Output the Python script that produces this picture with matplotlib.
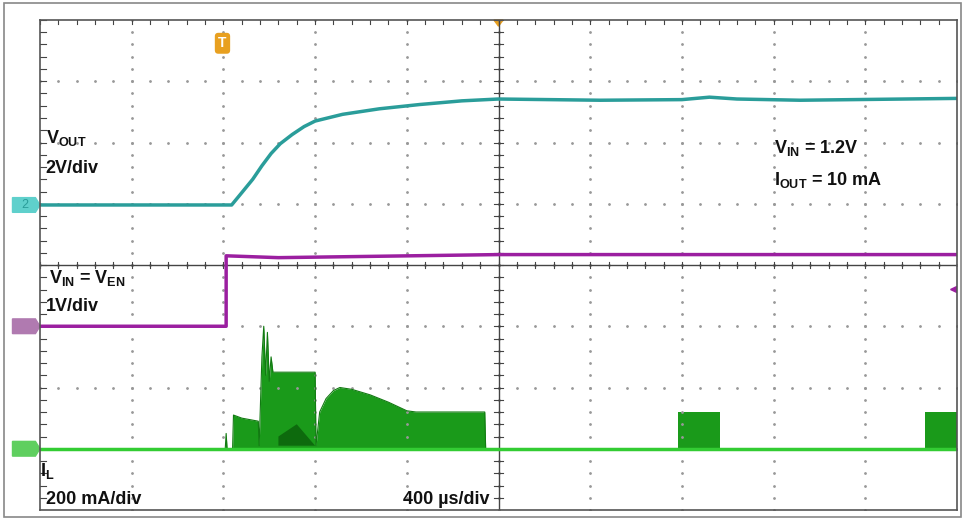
import numpy as np
import matplotlib
matplotlib.use("Agg")
import matplotlib.pyplot as plt
from matplotlib.patches import Polygon, Rectangle

plt.rcParams['font.family'] = ['Liberation Sans', 'DejaVu Sans']
plt.rcParams['mathtext.fontset'] = 'custom'
plt.rcParams['mathtext.bf'] = 'Liberation Sans:bold'
plt.rcParams['mathtext.rm'] = 'Liberation Sans:bold'
plt.rcParams['mathtext.default'] = 'bf'

# screen is 10 x 8 divisions; values in divisions
vout_t = [0, 2.09, 2.2, 2.32, 2.42, 2.52, 2.62, 2.75, 2.88, 3.0, 3.3, 3.7, 4.14, 4.6, 5.0,
          6.11, 7.0, 7.3, 7.6, 8.29, 10.0]
vout_v = [4.98, 4.98, 5.18, 5.4, 5.62, 5.82, 5.98, 6.13, 6.26, 6.35, 6.46, 6.55, 6.62, 6.68, 6.71,
          6.69, 6.70, 6.74, 6.71, 6.69, 6.72]

vin_t = [0, 2.03, 2.03, 2.6, 5.0, 10.0]
vin_v = [3.0, 3.0, 4.15, 4.12, 4.17, 4.17]

il_base = 1.0
# outline of the inductor current envelope during start-up
il_t = [0, 2.02, 2.03, 2.04, 2.1, 2.11, 2.2, 2.38, 2.39, 2.42, 2.44, 2.46, 2.48, 2.5, 2.52,
        2.54, 2.6, 3.0, 3.01, 3.05, 3.12, 3.2, 3.27, 3.4, 3.6, 3.8, 4.0, 4.1, 4.85, 4.86, 10.0]
il_v = [1.0, 1.0, 1.25, 1.0, 1.0, 1.55, 1.5, 1.45, 1.05, 2.5, 3.0, 2.2, 2.9, 2.1, 2.5,
        2.25, 2.25, 2.25, 1.05, 1.6, 1.82, 1.95, 2.0, 1.97, 1.88, 1.76, 1.62, 1.6, 1.6, 1.0, 1.0]
bursts = [(6.96, 7.42, 1.6), (9.65, 10.0, 1.6)]

fig = plt.figure(figsize=(9.65, 5.2), dpi=100)
fig.add_artist(Rectangle((0.004, 0.006), 0.992, 0.988, transform=fig.transFigure,
                         fill=False, ec='#888888', lw=1.2))
ax = fig.add_axes([40 / 965, 10 / 520, 917 / 965, 490 / 520])
ax.set_xlim(0, 10)
ax.set_ylim(0, 8)
ax.set_xticks([])
ax.set_yticks([])
for s in ax.spines.values():
    s.set_color('#555555')
    s.set_linewidth(1.2)

# dotted graticule
for gx in range(1, 10):
    ax.plot([gx] * 41, np.linspace(0, 8, 41), ls='none', marker='.', ms=2, color='#999999')
for gy in range(1, 8):
    ax.plot(np.linspace(0, 10, 51), [gy] * 51, ls='none', marker='.', ms=2, color='#999999')
ax.axvline(5, color='#444444', lw=1)
ax.axhline(4, color='#444444', lw=1)
for t in np.arange(0, 10.01, 0.2):
    ax.plot([t, t], [3.95, 4.05], color='#444444', lw=0.8)
    ax.plot([t, t], [7.93, 8.0], color='#444444', lw=0.8)
for t in np.arange(0, 8.01, 0.2):
    ax.plot([4.95, 5.05], [t, t], color='#444444', lw=0.8)
    ax.plot([0, 0.07], [t, t], color='#444444', lw=0.8)

# traces
ax.plot(vout_t, vout_v, color='#2a9d9a', lw=2.5)
ax.plot(vin_t, vin_v, color='#9b1fa0', lw=2.5)
ax.fill_between(il_t, il_base, il_v, color='#1a9a1a', lw=0)
ax.plot(il_t, il_v, color='#127a12', lw=0.8)
ax.add_patch(Polygon([[2.6, 1.2], [2.8, 1.4], [3.0, 1.05], [2.6, 1.05]], color='#0d6a0d', lw=0))
for b0, b1, h in bursts:
    ax.fill_between([b0, b1], il_base, h, color='#1a9a1a', lw=0)
ax.plot([0, 10], [il_base, il_base], color='#33cc33', lw=2.5)

# channel markers
for yv, col, lab in [(4.98, '#5fd0cc', '2'), (3.0, '#b07ab0', ''), (1.0, '#5fcf5f', '')]:
    ax.add_patch(Polygon([[-0.3, yv - 0.12], [-0.05, yv - 0.12], [0.0, yv],
                          [-0.05, yv + 0.12], [-0.3, yv + 0.12]],
                         color=col, clip_on=False))
    ax.text(-0.17, yv, lab, color='#2a9d9a', fontsize=9, ha='center', va='center')
ax.add_patch(Polygon([[9.93, 3.6], [10.0, 3.65], [10.0, 3.55]], color='#9b1fa0'))
ax.text(1.99, 7.62, 'T', color='white', fontsize=10, ha='center', va='center', fontweight='bold',
        bbox=dict(boxstyle='round,pad=0.25', fc='#e8a020', ec='none'))
ax.add_patch(Polygon([[4.95, 8.0], [5.05, 8.0], [5.0, 7.9]], color='#e8a020', clip_on=False))

# annotations
kw = dict(fontsize=13, color='#111111', fontweight='bold')
ax.text(0.06, 6.0, r'V$_{\mathbf{OUT}}$', **kw)
ax.text(0.06, 5.5, '2V/div', **kw)
ax.text(8.0, 5.83, r'V$_{\mathbf{IN}}$ = 1.2V', **kw)
ax.text(8.0, 5.3, r'I$_{\mathbf{OUT}}$ = 10 mA', **kw)
ax.text(0.1, 3.7, r'V$_{\mathbf{IN}}$ = V$_{\mathbf{EN}}$', **kw)
ax.text(0.06, 3.25, '1V/div', **kw)
ax.text(0.0, 0.55, r'I$_{\mathbf{L}}$', **kw)
ax.text(0.06, 0.1, '200 mA/div', **kw)
ax.text(3.96, 0.1, '400 µs/div', **kw)

fig.savefig('out.png', dpi=100)
